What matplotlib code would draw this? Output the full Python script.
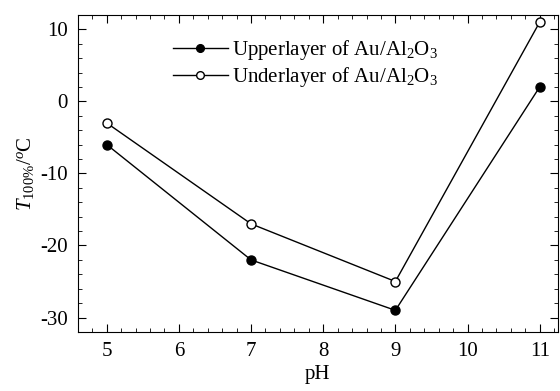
import numpy as np
import matplotlib
matplotlib.use("Agg")
import matplotlib.pyplot as plt
from matplotlib.ticker import MultipleLocator

ph = [5, 7, 9, 11]
upper = [-6, -22, -29, 2]
under = [-3, -17, -25, 11]

plt.rcParams["font.family"] = "Liberation Serif"
plt.rcParams["mathtext.fontset"] = "custom"
plt.rcParams["mathtext.rm"] = "Liberation Serif"
plt.rcParams["mathtext.it"] = "Liberation Serif:italic"
plt.rcParams["axes.unicode_minus"] = False
plt.rcParams["font.size"] = 15

fig = plt.figure(figsize=(5.6, 3.91), dpi=100)
ax = fig.add_axes([0.139, 0.151, 0.857, 0.811])

ax.plot(ph, upper, "k-", marker="o", ms=6.5, mfc="black", lw=1,
        label=r"Upperlayer of Au/Al$_2$O$_3$")
ax.plot(ph, under, "k-", marker="o", ms=6.5, mfc="white", lw=1,
        label=r"Underlayer of Au/Al$_2$O$_3$")

ax.set_xlim(4.6, 11.25)
ax.set_ylim(-32, 12)
ax.xaxis.set_major_locator(MultipleLocator(1))
ax.xaxis.set_minor_locator(MultipleLocator(0.2))
ax.yaxis.set_major_locator(MultipleLocator(10))
ax.yaxis.set_minor_locator(MultipleLocator(2))
ax.tick_params(which="both", direction="in", top=True, right=True, labelsize=15)
ax.tick_params(which="major", length=6, pad=7)
ax.tick_params(which="minor", length=3)

ax.set_xlabel("pH", fontsize=15, labelpad=3)
ax.set_ylabel(r"$T_{100\%}$/$^{o}$C", fontsize=15, labelpad=3)

ax.legend(loc="upper left", bbox_to_anchor=(0.16, 0.985), frameon=False,
          fontsize=15, handlelength=2.6, handletextpad=0.2, labelspacing=0.15,
          markerscale=0.85)

fig.savefig("out.png", dpi=100)
